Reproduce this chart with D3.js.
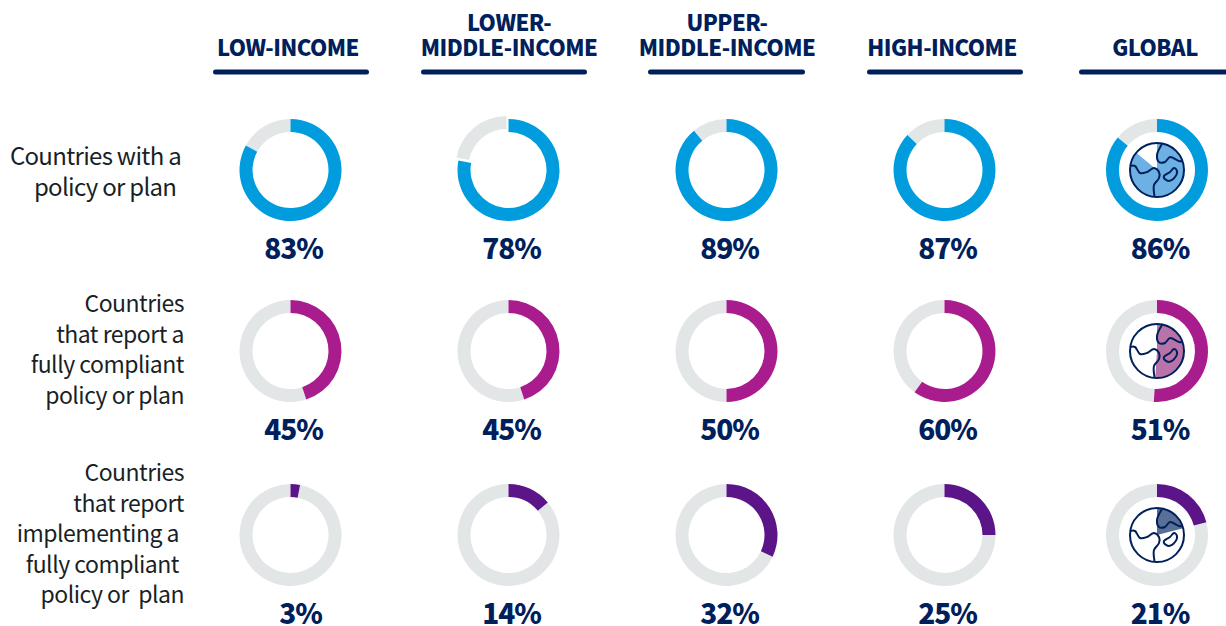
<!DOCTYPE html>
<html>
<head>
<meta charset="utf-8">
<script src="https://cdn.jsdelivr.net/npm/d3@7"></script>
<style>
  html, body { margin: 0; padding: 0; background: #fff; }
  svg { display: block; }
  text { font-family: "Noto Sans CJK JP", "Noto Sans", sans-serif; white-space: pre; }
</style>
</head>
<body>
<script>
var groups = ["LOW-INCOME", "LOWER-|MIDDLE-INCOME", "UPPER-|MIDDLE-INCOME", "HIGH-INCOME", "GLOBAL"];
var policyValues = [83, 78, 89, 87, 86];
var compliantValues = [45, 45, 50, 60, 51];
var implementingValues = [3, 14, 32, 25, 21];
var rowLabels = [
  ["Countries with a", "policy or plan "],
  ["Countries", "that report a", "fully compliant", "policy or plan"],
  ["Countries", "that report", "implementing a", "fully compliant", "policy or  plan"]
];

var width = 1226, height = 626;
var navy = "#00205c", track = "#e3e6e7";

// layout of the grid
var colX = [290.5, 508.5, 726.5, 944.5, 1157];
var rowY = [170, 351, 535];
var ruleX = [[213, 369], [421, 587], [648, 805], [867, 1023], [1079, 1232]];
var headX = [288, 509, 727, 942, 1155];
var labelRight = [[181, 181], [184, 184, 184, 184], [184, 184, 179, 179, 184]];
var labelTop = [165, 312, 481];
var labelSize = [24, 23, 23];

var rows = [
  {values: policyValues, color: "#009cde", globe: "#6cb0e4"},
  {values: compliantValues, color: "#a91c8e", globe: "#b874a8"},
  {values: implementingValues, color: "#5c1489", globe: "#5a6f96"}
];

var svg = d3.select("body").append("svg")
    .attr("width", width)
    .attr("height", height);

// column headers
groups.forEach(function(g, i) {
  var lines = g.split("|");
  lines.forEach(function(line, j) {
    svg.append("text")
      .attr("x", headX[i])
      .attr("y", 56 - (lines.length - 1 - j) * 25)
      .attr("text-anchor", "middle")
      .attr("font-size", 22)
      .attr("font-weight", 900)
      .attr("letter-spacing", -0.5)
      .attr("fill", navy)
      .text(line);
  });
  svg.append("line")
    .attr("x1", ruleX[i][0] + 2.5)
    .attr("x2", ruleX[i][1] - 2.5)
    .attr("y1", 72)
    .attr("y2", 72)
    .attr("stroke", navy)
    .attr("stroke-width", 5)
    .attr("stroke-linecap", "round");
});

// row labels
rowLabels.forEach(function(lines, r) {
  lines.forEach(function(line, j) {
    svg.append("text")
      .attr("x", labelRight[r][j])
      .attr("y", labelTop[r] + j * 30.5)
      .attr("text-anchor", "end")
      .attr("font-size", labelSize[r])
      .attr("letter-spacing", r == 0 ? -0.7 : -0.5)
      .attr("fill", "#1a1f26")
      .text(line);
  });
});

// percent -> angle, clockwise from the top
var angle = d3.scaleLinear().domain([0, 100]).range([0, 2 * Math.PI]);
var ring = d3.arc().innerRadius(38).outerRadius(51);
var wedge = d3.arc().innerRadius(0).outerRadius(27);
var line = d3.line().curve(d3.curveCatmullRom.alpha(0.5));
var lineClosed = d3.line().curve(d3.curveCatmullRomClosed.alpha(0.5));

// globe icon outlines, relative to the icon centre
var coastTop = [[5, -26], [0, -15], [2, -8], [8, -8], [13, -13], [22, -9], [26, -9]];
var coastLeft = [[-27, -4], [-22, -4], [-17, 3], [-10, 2], [-3, -2], [2, 2], [2, 8], [-3, 15], [-2.5, 26]];
var island = [[7, 6], [13, 2], [17, -2], [20, 1], [18, 7], [12, 11], [7, 8]];

rows.forEach(function(row, r) {
  row.values.forEach(function(v, i) {
    var g = svg.append("g")
      .attr("transform", "translate(" + colX[i] + "," + rowY[r] + ")");

    // the grey part of the 78% ring is pulled out a little in the original
    var pulled = r == 0 && i == 1;
    g.append("path")
      .attr("fill", track)
      .attr("transform", pulled ? "translate(-2,-3)" : null)
      .attr("d", ring({startAngle: angle(v), endAngle: 2 * Math.PI}));
    g.append("path")
      .attr("fill", row.color)
      .attr("d", ring({startAngle: 0, endAngle: angle(v)}));

    g.append("text")
      .attr("x", v == 3 ? 10 : 3) // the 3% label sits off centre in the original
      .attr("y", 89)
      .attr("text-anchor", "middle")
      .attr("font-size", 28)
      .attr("font-weight", 900)
      .attr("letter-spacing", -1)
      .attr("fill", navy)
      .text(v + "%");

    // only the global column has the globe in the middle
    if (i == 4) {
      g.append("path")
        .attr("fill", row.globe)
        .attr("d", wedge({startAngle: 0, endAngle: angle(v)}));
      g.append("circle")
        .attr("r", 27)
        .attr("fill", "none")
        .attr("stroke", navy)
        .attr("stroke-width", 2);
      [line(coastTop), line(coastLeft), lineClosed(island)].forEach(function(d) {
        g.append("path")
          .attr("d", d)
          .attr("fill", "none")
          .attr("stroke", navy)
          .attr("stroke-width", 2);
      });
    }
  });
});
</script>
</body>
</html>
